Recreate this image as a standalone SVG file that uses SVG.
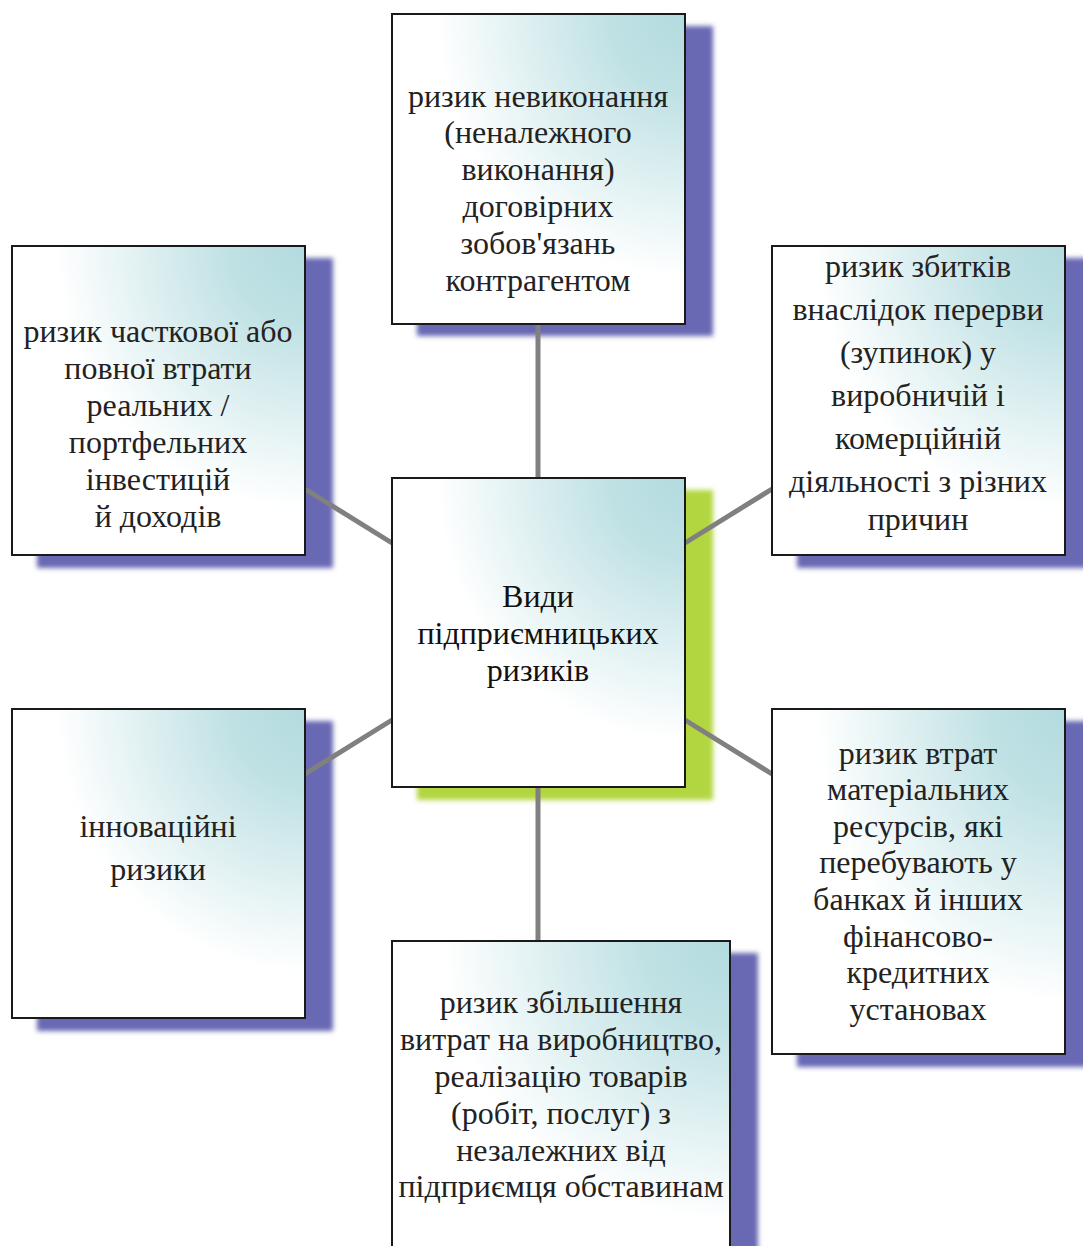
<svg xmlns="http://www.w3.org/2000/svg" width="1083" height="1246" viewBox="0 0 1083 1246">
<style>
.box{stroke:#1a1a1a;stroke-width:2;fill:url(#g)}
.sh{fill:#6868b3;filter:url(#blur)}
.shg{fill:#b2d640;filter:url(#blur)}
.con{stroke:#808080;stroke-width:5;fill:none}
text{font-family:'Liberation Serif','DejaVu Serif',serif;font-size:32px;fill:#222;text-anchor:middle}
.c text{fill:#111}
</style>
<defs>
<radialGradient id="g" cx="1" cy="0" r="1" fx="1" fy="0">
<stop offset="0" stop-color="#b3dbdf"/>
<stop offset="0.25" stop-color="#bfe1e4"/>
<stop offset="0.85" stop-color="#ffffff"/>
</radialGradient>
<filter id="blur" x="-10%" y="-10%" width="120%" height="120%"><feGaussianBlur stdDeviation="2.5"/></filter>
</defs>
<rect width="1083" height="1246" fill="#fff"/>
<g id="shadows">
<rect class="sh" x="417" y="26" width="296" height="310"/>
<rect class="sh" x="37" y="258" width="296" height="310"/>
<rect class="sh" x="797" y="258" width="296" height="310"/>
<rect class="shg" x="417" y="490" width="296" height="310"/>
<rect class="sh" x="37" y="721" width="296" height="310"/>
<rect class="sh" x="797" y="721" width="296" height="346"/>
<rect class="sh" x="417" y="953" width="341" height="320"/>
</g>
<g id="connectors">
<line class="con" x1="538" y1="324" x2="538" y2="478"/>
<line class="con" x1="538" y1="787" x2="538" y2="940"/>
<line class="con" x1="305" y1="489" x2="392" y2="543"/>
<line class="con" x1="305" y1="774" x2="392" y2="720"/>
<line class="con" x1="685" y1="543" x2="772" y2="489"/>
<line class="con" x1="685" y1="720" x2="772" y2="774"/>
</g>
<g id="n-top">
<rect class="box" x="392" y="14" width="293" height="310"/>
<text x="538" y="107">ризик невиконання</text>
<text x="538" y="143">(неналежного</text>
<text x="538" y="180">виконання)</text>
<text x="538" y="217">договірних</text>
<text x="538" y="254">зобов'язань</text>
<text x="538" y="291">контрагентом</text>
</g>
<g id="n-left-top">
<rect class="box" x="12" y="246" width="293" height="309"/>
<text x="158" y="342">ризик часткової або</text>
<text x="158" y="379">повної втрати</text>
<text x="158" y="416">реальних /</text>
<text x="158" y="453">портфельних</text>
<text x="158" y="490">інвестицій</text>
<text x="158" y="527">й доходів</text>
</g>
<g id="n-right-top">
<rect class="box" x="772" y="246" width="293" height="309"/>
<text x="918" y="277">ризик збитків</text>
<text x="918" y="320">внаслідок перерви</text>
<text x="918" y="363">(зупинок) у</text>
<text x="918" y="406">виробничій і</text>
<text x="918" y="449">комерційній</text>
<text x="918" y="492">діяльності з різних</text>
<text x="918" y="530">причин</text>
</g>
<g id="n-center" class="c">
<rect class="box" x="392" y="478" width="293" height="309"/>
<text x="538" y="607">Види</text>
<text x="538" y="644">підприємницьких</text>
<text x="538" y="681">ризиків</text>
</g>
<g id="n-left-bottom">
<rect class="box" x="12" y="709" width="293" height="309"/>
<text x="158" y="837">інноваційні</text>
<text x="158" y="880">ризики</text>
</g>
<g id="n-right-bottom">
<rect class="box" x="772" y="709" width="293" height="345"/>
<text x="918" y="764">ризик втрат</text>
<text x="918" y="800">матеріальних</text>
<text x="918" y="837">ресурсів, які</text>
<text x="918" y="873">перебувають у</text>
<text x="918" y="910">банках й інших</text>
<text x="918" y="947">фінансово-</text>
<text x="918" y="983">кредитних</text>
<text x="918" y="1020">установах</text>
</g>
<g id="n-bottom">
<rect class="box" x="392" y="941" width="338" height="330"/>
<text x="561" y="1013">ризик збільшення</text>
<text x="561" y="1050">витрат на виробництво,</text>
<text x="561" y="1087">реалізацію товарів</text>
<text x="561" y="1124">(робіт, послуг) з</text>
<text x="561" y="1161">незалежних від</text>
<text x="561" y="1197">підприємця обставинам</text>
</g>
</svg>
